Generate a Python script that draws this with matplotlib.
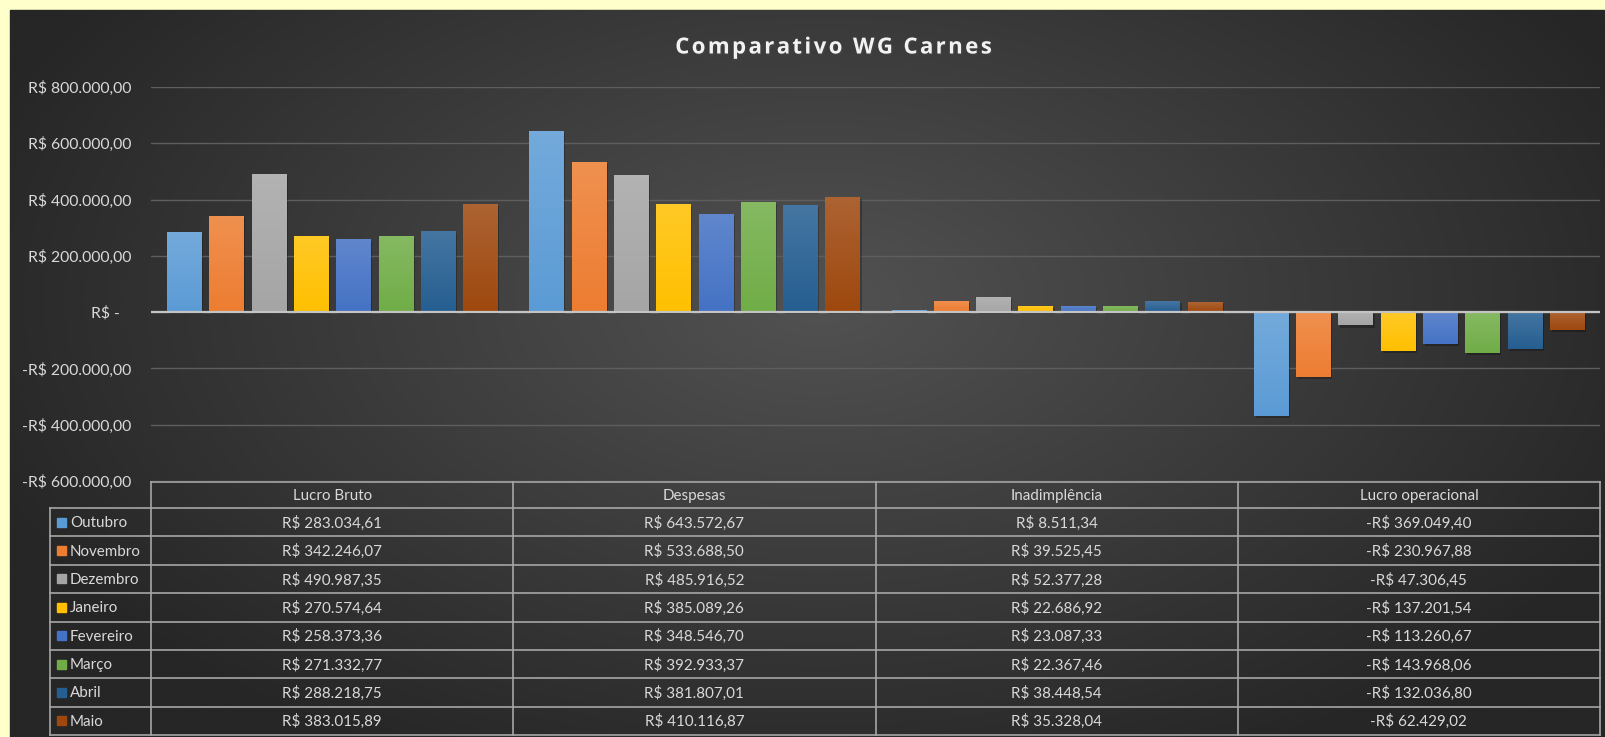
import numpy as np
import matplotlib
matplotlib.use("Agg")
import matplotlib.pyplot as plt
import matplotlib.colors as mcolors
from matplotlib import patheffects as pe
from matplotlib.patches import Rectangle

plt.rcParams['font.family'] = ['Lato', 'DejaVu Sans']

categorias = ['Lucro Bruto', 'Despesas', 'Inadimplência', 'Lucro operacional']
meses = ['Outubro', 'Novembro', 'Dezembro', 'Janeiro', 'Fevereiro', 'Março', 'Abril', 'Maio']
lucro_bruto = [283034.61, 342246.07, 490987.35, 270574.64, 258373.36, 271332.77, 288218.75, 383015.89]
despesas = [643572.67, 533688.50, 485916.52, 385089.26, 348546.70, 392933.37, 381807.01, 410116.87]
inadimplencia = [8511.34, 39525.45, 52377.28, 22686.92, 23087.33, 22367.46, 38448.54, 35328.04]
lucro_operacional = [-369049.40, -230967.88, -47306.45, -137201.54, -113260.67, -143968.06, -132036.80, -62429.02]
cores = ['#5B9BD5', '#ED7D31', '#A5A5A5', '#FFC000', '#4472C4', '#70AD47', '#255E91', '#9E480E']
eixo_y = [-600000, -400000, -200000, 0, 200000, 400000, 600000, 800000]
titulo = 'Comparativo WG Carnes'

dados = np.array([lucro_bruto, despesas, inadimplencia, lucro_operacional])


def brl(v):
    s = f"{abs(v):,.2f}".replace(',', 'X').replace('.', ',').replace('X', '.')
    return ('-R$ ' if v < 0 else 'R$ ') + s


def tick_brl(v):
    if v == 0:
        return 'R$ -   '
    return brl(v)


W, H = 1605, 737
fig = plt.figure(figsize=(W / 100, H / 100), dpi=100, facecolor='#FFFFCC')

# fundo escuro com gradiente radial
bg = fig.add_axes([0, 0, 1, 1])
bg.axis('off')
bg.add_patch(Rectangle((10, 10), W, H, color='#2a2a2a', zorder=0))
gx, gy = np.meshgrid(np.linspace(10, W, 400), np.linspace(10, H, 200))
d = np.sqrt(((gx - 820) / 900) ** 2 + ((gy - 300) / 520) ** 2)
lum = 0x52 - (0x52 - 0x26) * np.clip(d, 0, 1)
img = np.dstack([lum, lum, lum]) / 255
bg.imshow(img, extent=(10, W + 1, H + 1, 10), aspect='auto', interpolation='bilinear', zorder=0.5)
bg.set_xlim(0, W)
bg.set_ylim(H, 0)

# titulo com espacamento entre letras
renderer = fig.canvas.get_renderer()
tprops = dict(fontsize=16, fontweight='bold', family=['Open Sans', 'DejaVu Sans'], color='#f2f2f2')
larguras = []
for ch in titulo:
    if ch == ' ':
        a = bg.text(0, 0, 'a a', **tprops).get_window_extent(renderer).width
        b = bg.text(0, 0, 'aa', **tprops).get_window_extent(renderer).width
        larguras.append(a - b)
    else:
        larguras.append(bg.text(0, 0, ch, **tprops).get_window_extent(renderer).width)
for t in list(bg.texts):
    t.remove()
esp = 2.4
total = sum(larguras) + esp * (len(titulo) - 1)
xpos = 833.5 - total / 2
for ch, lw_ in zip(titulo, larguras):
    if ch != ' ':
        bg.text(xpos, 48, ch, ha='left', va='center', zorder=5,
                path_effects=[pe.withSimplePatchShadow(offset=(1, -1), alpha=0.5)], **tprops)
    xpos += lw_ + esp

# area do grafico
ax = fig.add_axes([151 / W, (H - 481) / H, (1600 - 151) / W, (481 - 87) / H])
ax.patch.set_alpha(0)
for s in ax.spines.values():
    s.set_visible(False)

step = 0.1168
bw = 0.094
x = np.arange(len(categorias))
for j, mes in enumerate(meses):
    bars = ax.bar(x + (j - 3.5) * step, dados[:, j], width=bw, color=cores[j], zorder=3,
                  path_effects=[pe.SimplePatchShadow(offset=(1.5, -1.5), shadow_rgbFace='black', alpha=0.25),
                                pe.Normal()])
    base = np.array(mcolors.to_rgb(cores[j]))
    top = base + (1 - base) * 0.15
    grad = np.linspace(0, 1, 64)[:, None, None]
    gimg = top * (1 - grad) + base * grad
    for rect in bars:
        x0, y0 = rect.get_xy()
        w, h = rect.get_width(), rect.get_height()
        im = ax.imshow(gimg, extent=(x0, x0 + w, min(y0, y0 + h), max(y0, y0 + h)),
                       aspect='auto', interpolation='bilinear', zorder=3.5)
        im.set_clip_path(rect)

ax.set_xlim(-0.5, len(categorias) - 0.5)
ax.set_ylim(eixo_y[0], eixo_y[-1])
ax.set_yticks(eixo_y)
ax.set_yticklabels([tick_brl(v) for v in eixo_y])
ax.set_xticks([])
ax.yaxis.grid(True, color='#5e5e5e', lw=1)
ax.set_axisbelow(True)
ax.axhline(0, color='#c4c4c4', lw=1.6, zorder=4)
ax.tick_params(axis='y', length=0, labelcolor='#d9d9d9', labelsize=11.3, pad=14)

# tabela de dados
lc = '#a6a6a6'
cx = [151 + 362.25 * k for k in range(len(categorias) + 1)]
hy0, hy1 = 482, 508
rh = (735 - hy1) / len(meses)
bg.plot([cx[0], cx[-1]], [hy0, hy0], color=lc, lw=1.2, zorder=2)
for k in range(len(cx)):
    bg.plot([cx[k], cx[k]], [hy0, 735], color=lc, lw=1.2, zorder=2)
bg.plot([50, 50], [hy1, 735], color=lc, lw=1.2, zorder=2)
for i in range(len(meses) + 1):
    bg.plot([50, cx[-1]], [hy1 + i * rh, hy1 + i * rh], color=lc, lw=1.2, zorder=2)

for k, cat in enumerate(categorias):
    bg.text((cx[k] + cx[k + 1]) / 2, (hy0 + hy1) / 2 + 1, cat, ha='center', va='center',
            fontsize=10.9, color='#d9d9d9', zorder=3)
for i, mes in enumerate(meses):
    yc = hy1 + (i + 0.5) * rh
    bg.add_patch(Rectangle((57, yc - 4.5), 9, 9, color=cores[i], zorder=3))
    bg.text(70, yc + 1, mes, ha='left', va='center', fontsize=10.9, color='#d9d9d9', zorder=3)
    for k in range(len(categorias)):
        bg.text((cx[k] + cx[k + 1]) / 2, yc + 1, brl(dados[k, i]), ha='center', va='center',
                fontsize=10.9, color='#d9d9d9', zorder=3)

bg.set_xlim(0, W)
bg.set_ylim(H, 0)
fig.savefig('out.png', dpi=100, facecolor=fig.get_facecolor())
